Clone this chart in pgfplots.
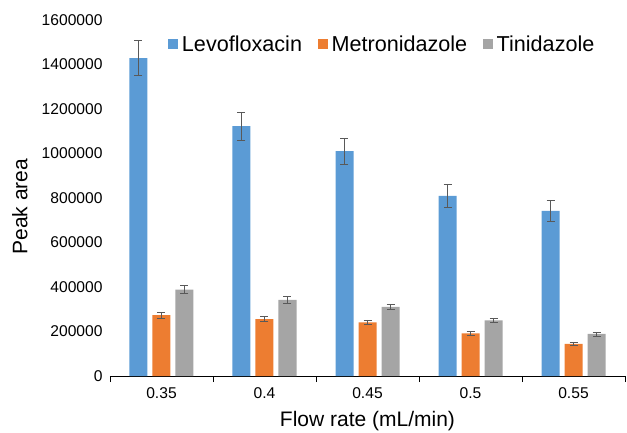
\documentclass[border=0pt]{standalone}
\usepackage{pgfplots}
\pgfplotsset{compat=1.18}
\usepackage{fontspec}
\setmainfont{Liberation Sans}
\definecolor{cblue}{HTML}{5B9BD5}
\definecolor{corange}{HTML}{ED7D31}
\definecolor{cgray}{HTML}{A5A5A5}
\definecolor{errc}{HTML}{595959}
\definecolor{axc}{HTML}{000000}
\begin{document}
\begin{tikzpicture}
\begin{axis}[
  at={(0,0)}, anchor=south west,
  scale only axis,
  width=515pt, height=356pt,
  xmin=-0.5, xmax=4.5,
  ymin=0, ymax=1600000,
  ybar=5pt, bar width=18pt,
  axis x line*=bottom,
  axis y line*=left,
  y axis line style={draw=none},
  x axis line style={draw=axc, line width=0.8pt},
  xtick={0,1,2,3,4},
  xticklabels={0.35,0.4,0.45,0.5,0.55},
  minor xtick={-0.5,0.5,1.5,2.5,3.5,4.5},
  major x tick style={draw=none},
  minor x tick style={draw=axc, line width=0.8pt},
  minor tick length=6pt,
  ytick={0,200000,400000,600000,800000,1000000,1200000,1400000,1600000},
  yticklabels={0,200000,400000,600000,800000,1000000,1200000,1400000,1600000},
  major y tick style={draw=none},
  scaled y ticks=false,
  tick label style={font=\fontsize{15.6}{18}\selectfont},
  yticklabel style={xshift=-4pt},
  xticklabel style={yshift=-4pt},
  label style={font=\fontsize{21}{24}\selectfont},
  xlabel={Flow rate (mL/min)},
  ylabel={Peak area},
  xlabel style={at={(axis description cs:0.5,0)}, anchor=center, yshift=-45pt},
  ylabel style={at={(axis description cs:-0.1748,0.476)}, anchor=center},
  legend columns=3,
  legend style={draw=none, fill=none, at={(axis description cs:0.1126,0.9326)}, anchor=west,
    inner sep=0pt, outer sep=0pt, font=\fontsize{21.6}{24}\selectfont,
    /tikz/every odd column/.append style={column sep=2pt},
    /tikz/every even column/.append style={column sep=13.5pt}},
  legend image code/.code={\fill[#1,draw=none] (0pt,-5pt) rectangle (10pt,5pt);},
  error bars/y dir=both, error bars/y explicit,
  error bars/error mark options={rotate=90, mark size=4pt, line width=0.8pt, draw=errc},
  error bars/error bar style={line width=0.8pt, draw=errc},
  clip=false,
]
\addplot[fill=cblue, draw=none] coordinates {
  (0,1429000) +- (0,80000)
  (1,1123000) +- (0,63000)
  (2,1011000) +- (0,58000)
  (3,809000) +- (0,50000)
  (4,742000) +- (0,45000)
};
\addplot[fill=corange, draw=none] coordinates {
  (0,274000) +- (0,13000)
  (1,256000) +- (0,12000)
  (2,241000) +- (0,11000)
  (3,192000) +- (0,9000)
  (4,144000) +- (0,7000)
};
\addplot[fill=cgray, draw=none] coordinates {
  (0,388000) +- (0,17000)
  (1,342000) +- (0,15000)
  (2,311000) +- (0,13000)
  (3,250000) +- (0,11000)
  (4,189000) +- (0,9000)
};
\legend{Levofloxacin, Metronidazole, Tinidazole}
\end{axis}
\pgfresetboundingbox
\path[use as bounding box] (-110pt,-56pt) rectangle (517pt,376pt);
\end{tikzpicture}
\end{document}
